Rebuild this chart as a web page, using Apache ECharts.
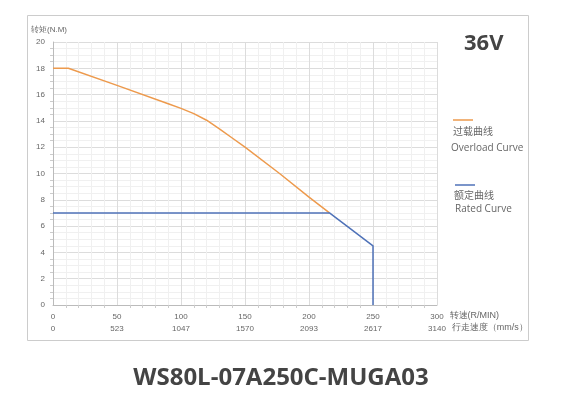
<!DOCTYPE html>
<html lang="zh">
<head>
    <meta charset="UTF-8">
    <title>WS80L-07A250C-MUGA03</title>
    <script src="https://cdn.jsdelivr.net/npm/echarts@6/dist/echarts.min.js"></script>
    <style>
        html, body { margin: 0; padding: 0; background: #fff; }
        #chart { width: 562px; height: 401px; }
    </style>
</head>
<body>
<div id="chart"></div>
<script>
    // speed (R/MIN), torque (N.M)
    var overloadCurve = [[0, 18], [12, 18], [50, 16.7], [90, 15.3], [100, 14.95], [110, 14.55],
        [120, 14.05], [130, 13.4], [140, 12.7], [150, 12], [177, 10], [200, 8.2], [216, 7]];
    var ratedCurve = [[0, 7], [216, 7], [250, 4.5], [250, 0]];
    var speedTicks = [0, 50, 100, 150, 200, 250, 300];
    var walkTicks = ['0', '523', '1047', '1570', '2093', '2617', '3140'];

    var orange = '#ed9a4d';
    var blue = '#4f72b8';
    var gray = '#666';

    var chart = echarts.init(document.getElementById('chart'));
    var option = {
        backgroundColor: '#fff',
        animation: false,
        grid: { left: 53, right: 125, top: 42, bottom: 96 },
        xAxis: [{
            type: 'value', min: 0, max: 300, interval: 50,
            name: '转速(R/MIN)', nameLocation: 'end', nameGap: 4,
            nameTextStyle: { color: gray, fontSize: 9, verticalAlign: 'top', padding: [6, 0, 0, 0] },
            axisLine: { lineStyle: { color: '#bbb' } },
            axisTick: { show: false },
            minorTick: { show: true, splitNumber: 5, length: 3, lineStyle: { color: '#ccc' } },
            axisLabel: { color: gray, fontSize: 8, margin: 8 },
            splitLine: { lineStyle: { color: '#dcdcdc' } },
            minorSplitLine: { show: true, lineStyle: { color: '#f0f0f0' } }
        }, {
            type: 'value', min: 0, max: 300, interval: 50, position: 'bottom', offset: 12,
            name: '行走速度（mm/s）', nameLocation: 'end', nameGap: 4,
            nameTextStyle: { color: gray, fontSize: 9, verticalAlign: 'top', padding: [6, 0, 0, 0] },
            axisLine: { show: false }, axisTick: { show: false }, splitLine: { show: false },
            axisLabel: {
                color: gray, fontSize: 8, margin: 8,
                formatter: function (v) { return walkTicks[speedTicks.indexOf(v)]; }
            }
        }],
        yAxis: {
            type: 'value', min: 0, max: 20, interval: 2,
            name: '转矩(N.M)', nameLocation: 'end', nameGap: 8,
            nameTextStyle: { color: gray, fontSize: 8, align: 'left', padding: [0, 0, 0, -22] },
            axisLine: { show: true, lineStyle: { color: '#bbb' } },
            axisTick: { show: false },
            minorTick: { show: true, splitNumber: 4, length: 3, lineStyle: { color: '#ccc' } },
            axisLabel: { color: gray, fontSize: 8, margin: 8 },
            splitLine: { lineStyle: { color: '#dcdcdc' } },
            minorSplitLine: { show: true, lineStyle: { color: '#f0f0f0' } }
        },
        series: [{
            name: '过载曲线', type: 'line', data: overloadCurve, showSymbol: false,
            lineStyle: { color: orange, width: 1.5 }, itemStyle: { color: orange }
        }, {
            name: '额定曲线', type: 'line', data: ratedCurve, showSymbol: false,
            lineStyle: { color: blue, width: 1.5 }, itemStyle: { color: blue }
        }],
        graphic: [
            { type: 'rect', shape: { x: 27.5, y: 15.5, width: 501, height: 325 }, style: { fill: 'none', stroke: '#ccc', lineWidth: 1 }, z: -1 },
            { type: 'text', left: 464, top: 33, style: { text: '36V', fill: '#444', font: 'bold 22px "Open Sans", sans-serif' } },
            { type: 'line', shape: { x1: 453, y1: 120, x2: 473, y2: 120 }, style: { stroke: orange, lineWidth: 1.5 } },
            { type: 'text', left: 453, top: 126, style: { text: '过载曲线', fill: gray, font: '10px "Noto Sans CJK SC", sans-serif' } },
            { type: 'text', left: 451, top: 143, style: { text: 'Overload Curve', fill: gray, font: '10px "Open Sans", sans-serif' } },
            { type: 'line', shape: { x1: 455, y1: 185, x2: 475, y2: 185 }, style: { stroke: blue, lineWidth: 1.5 } },
            { type: 'text', left: 454, top: 190, style: { text: '额定曲线', fill: gray, font: '10px "Noto Sans CJK SC", sans-serif' } },
            { type: 'text', left: 455, top: 204, style: { text: 'Rated Curve', fill: gray, font: '10px "Open Sans", sans-serif' } },
            { type: 'text', left: 'center', top: 366, style: { text: 'WS80L-07A250C-MUGA03', fill: '#444', font: 'bold 24px "Open Sans", sans-serif' } }
        ]
    };
    chart.setOption(option);
</script>
</body>
</html>
